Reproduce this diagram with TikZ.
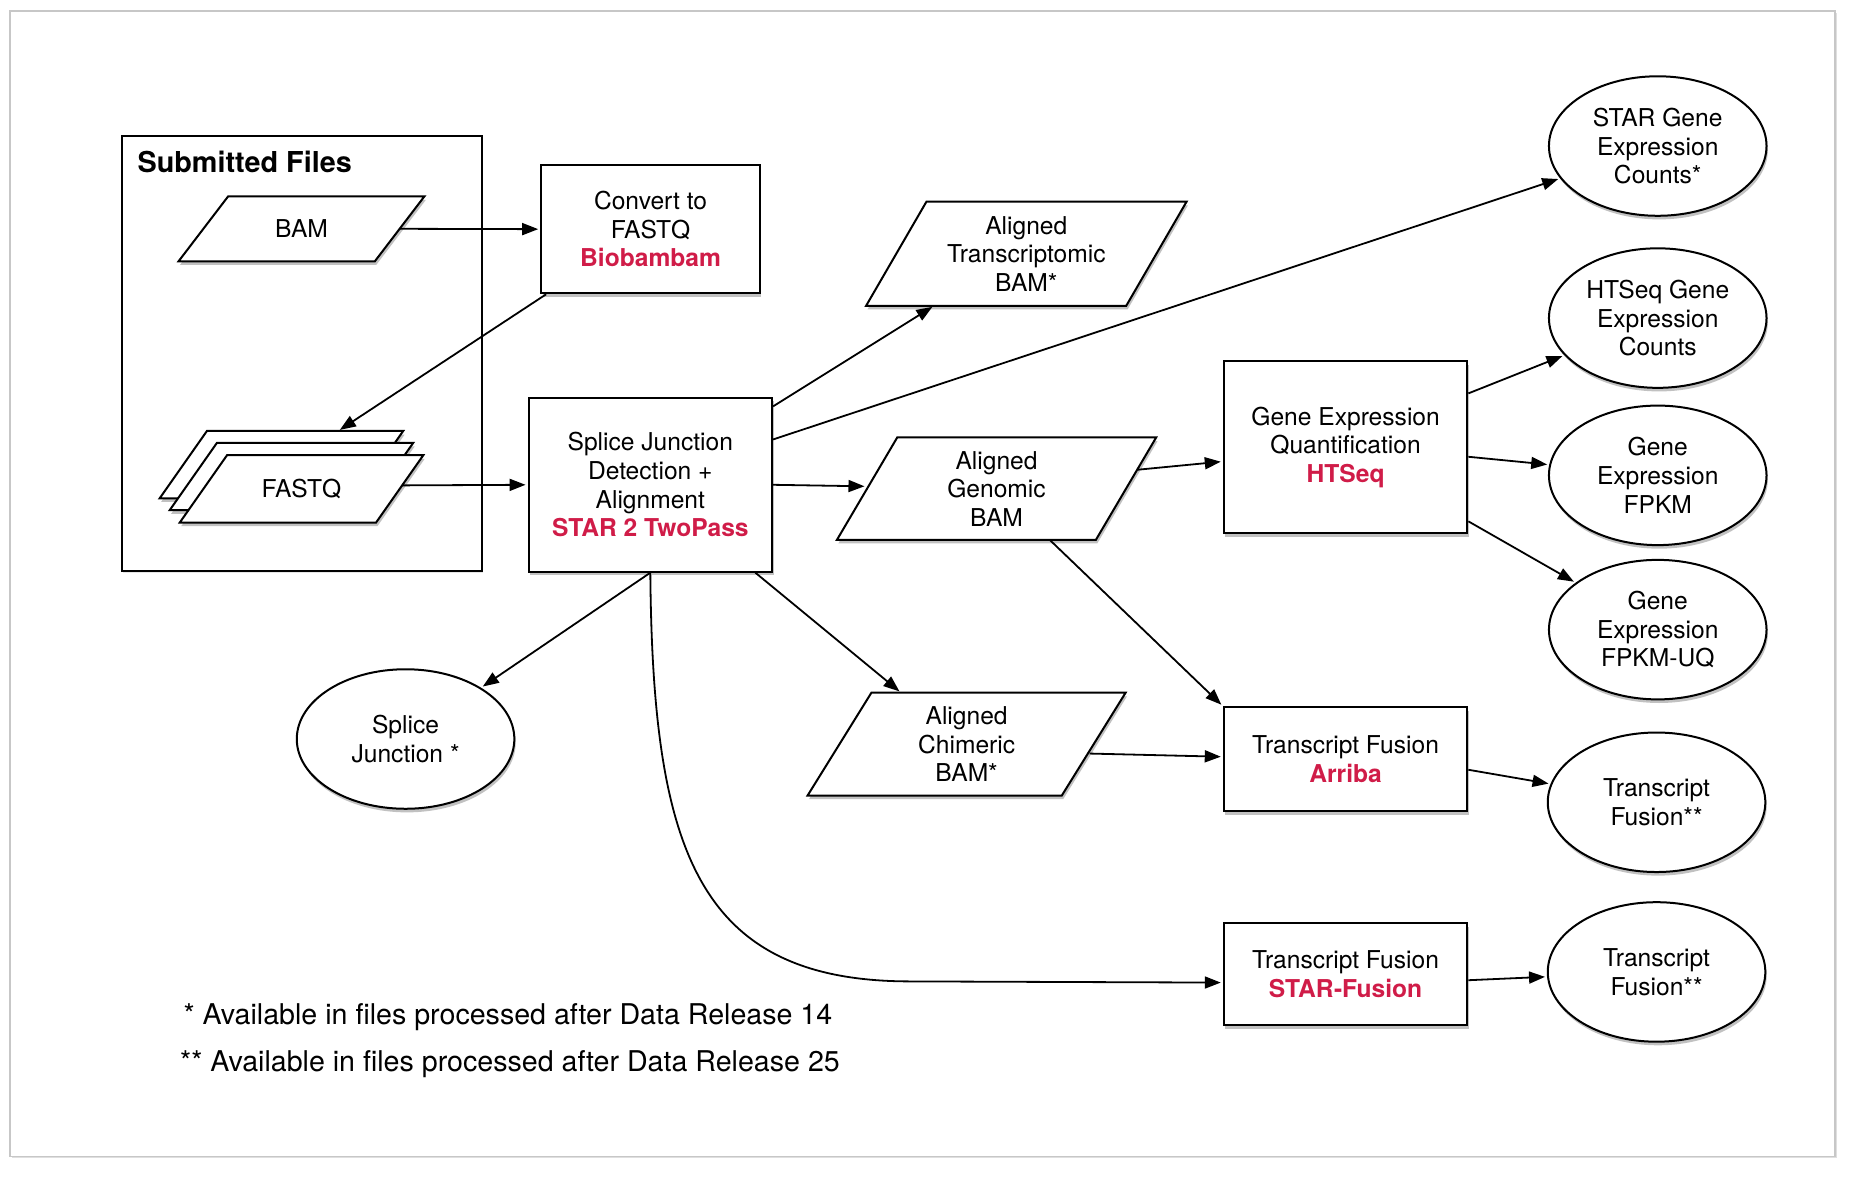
\documentclass[tikz,border=0pt]{standalone}
\usepackage{fontspec}
\setmainfont{TeX Gyre Heros}
\usetikzlibrary{arrows.meta,shapes.geometric,shadows,calc}
\definecolor{toolred}{RGB}{208,28,72}
\def\U{0.5912pt}
\newcommand\toolname[1]{\textcolor{toolred}{\bfseries #1}}
% name, cx, cy, half width, half height, half slant, text
\newcommand\parashape[7]{%
  \draw[parabox] (#2-#4-#6,#3+#5) -- (#2+#4-#6,#3+#5) -- (#2+#4+#6,#3-#5) -- (#2-#4+#6,#3-#5) -- cycle;
  \node[txt] (#1) at (#2,#3) {#7};
}
\begin{document}
\begin{tikzpicture}[x=0.5912pt,y=-0.5912pt,
  txt/.style={align=center, inner sep=0pt, font=\fontsize{12.3}{14.3}\selectfont},
  shd/.style={drop shadow={shadow xshift=0.7pt, shadow yshift=-1.8pt, opacity=0.4, fill=black!60}},
  box/.style={draw, line width=1pt, fill=white, rectangle, inner sep=0pt, align=center, font=\fontsize{12.3}{14.3}\selectfont, shd},
  parabox/.style={draw, line width=1pt, fill=white, line join=miter, shd},
  ell/.style={draw, ellipse, line width=1pt, fill=white, minimum width=184*\U, minimum height=118*\U, inner sep=0pt, align=center, font=\fontsize{12.3}{14.3}\selectfont, shd},
  arr/.style={-{Triangle[length=8pt,width=6pt]}, line width=0.9pt, shorten >=1pt},
  note/.style={inner sep=0pt, anchor=west, font=\fontsize{14.3}{16}\selectfont}
]
\useasboundingbox (0,0) rectangle (1568,996);
\fill[white] (0,0) rectangle (1568,996);
\draw[black!22, line width=0.8pt, fill=white, drop shadow={shadow xshift=1pt, shadow yshift=-1pt, opacity=0.25, fill=black!50}] (8.5,9.3) rectangle (1552,978);

% Submitted files container
\node[draw, line width=1pt, fill=white, minimum width=305*\U, minimum height=368*\U, inner sep=0pt,
  drop shadow={shadow xshift=0.5pt, shadow yshift=-1pt, opacity=0.2}] (subm) at (255.5,299) {};
\node[inner sep=0pt, anchor=west, font=\bfseries\fontsize{14.4}{16}\selectfont] (subt) at (116,137) {Submitted Files};

\parashape{bam}{255}{193.5}{83}{27.5}{21}{BAM}
\parashape{fqc}{238}{393}{83}{28.5}{20}{}
\parashape{fqb}{246.5}{403}{83}{28.5}{20}{}
\parashape{fq}{255}{413.5}{83}{28.5}{20}{FASTQ}

\node[box, minimum width=185*\U, minimum height=108.5*\U] (conv) at (550.2,193.8) {Convert to\\FASTQ\\\toolname{Biobambam}};
\node[box, minimum width=206*\U, minimum height=147*\U] (sj) at (550,410) {Splice Junction\\Detection +\\Alignment\\\toolname{STAR 2 TwoPass}};

\parashape{trans}{868}{214.6}{110}{44}{25.5}{Aligned\\Transcriptomic\\BAM*}
\parashape{gen}{842.8}{413.3}{109.5}{43.3}{25.5}{Aligned\\Genomic\\BAM}
\parashape{chim}{817.5}{629.3}{107.5}{43.5}{27}{Aligned\\Chimeric\\BAM*}

\node[box, minimum width=206*\U, minimum height=145.5*\U] (hts) at (1138,378.3) {Gene Expression\\Quantification\\\toolname{HTSeq}};
\node[box, minimum width=206*\U, minimum height=88*\U] (arr) at (1138,642) {Transcript Fusion\\\toolname{Arriba}};
\node[box, minimum width=206*\U, minimum height=86.5*\U] (stf) at (1138,824) {Transcript Fusion\\\toolname{STAR-Fusion}};

\node[ell] (sg) at (1402,123.5) {STAR Gene\\Expression\\Counts*};
\node[ell] (hg) at (1402,269) {HTSeq Gene\\Expression\\Counts};
\node[ell] (fpkm) at (1402,402) {Gene\\Expression\\FPKM};
\node[ell] (uq) at (1402,532.5) {Gene\\Expression\\FPKM-UQ};
\node[ell] (tf1) at (1401,678.5) {Transcript\\Fusion**};
\node[ell] (tf2) at (1401,822) {Transcript\\Fusion**};
\node[ell] (sje) at (343,625) {Splice\\Junction *};

\node[note] (fn1) at (155,860) {* Available in files processed after Data Release 14};
\node[note] (fn2) at (152,900) {** Available in files processed after Data Release 25};

% connectors
\draw[arr] ($(bam)+(83,0)$) -- (conv.west);
\draw[arr] ($(conv.south west)+(5,0)$) -- ($(fqc)+(48,-28.5)$);
\draw[arr] ($(fq)+(85,-3)$) -- (sj.west);
\draw[arr] ($(sj.north east)+(0,8)$) -- ($(trans)+(-78,44)$);
\draw[arr] ($(sj.north east)+(0,36)$) -- (sg);
\draw[arr] (sj.east) -- ($(gen)+(-110,-2)$);
\draw[arr] ($(sj.south east)+(-15,0)$) -- ($(chim)+(-55.5,-43.5)$);
\draw[arr] (sj.south) -- (sje);
\draw[arr] (sj.south) .. controls (552,720) and (590,830) .. (770,830) -- ($(stf.west)+(0,7)$);
\draw[arr] ($(gen)+(119,-16)$) -- ($(hts.west)+(0,12)$);
\draw[arr] ($(gen)+(45,43.3)$) -- (arr.north west);
\draw[arr] ($(chim)+(104,8)$) -- ($(arr.west)+(0,-2)$);
\draw[arr] ($(hts.north east)+(0,28)$) -- (hg);
\draw[arr] ($(hts.east)+(0,8)$) -- (fpkm);
\draw[arr] ($(hts.south east)+(0,-11)$) -- (uq);
\draw[arr] ($(arr.east)+(0,9)$) -- (tf1);
\draw[arr] ($(stf.east)+(0,5)$) -- (tf2);
\end{tikzpicture}
\end{document}
